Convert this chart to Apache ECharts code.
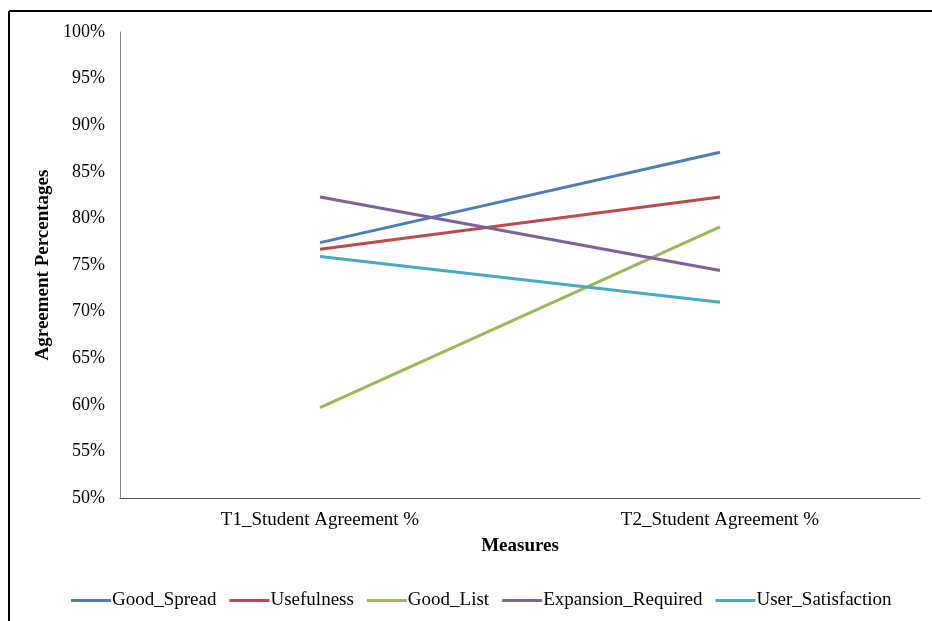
<!DOCTYPE html>
<html><head><meta charset="utf-8">
<script src="https://cdn.jsdelivr.net/npm/echarts@6/dist/echarts.min.js"></script>
<style>html,body{margin:0;padding:0;background:#fff}#c{width:932px;height:621px}</style>
</head><body><div id="c"></div>
<script>
const categories = ['T1_Student Agreement %', 'T2_Student Agreement %'];
const seriesNames = ['Good_Spread', 'Usefulness', 'Good_List', 'Expansion_Required', 'User_Satisfaction'];
const goodSpread = [77.4, 87.1];
const usefulness = [76.7, 82.3];
const goodList = [59.7, 79.1];
const expansionRequired = [82.3, 74.4];
const userSatisfaction = [75.9, 71.0];
const colors = ['#4A7EBB', '#BE4B48', '#98B954', '#7D60A0', '#46AAC5'];
const values = [goodSpread, usefulness, goodList, expansionRequired, userSatisfaction];
const font = 'Liberation Serif';

const chart = echarts.init(document.getElementById('c'), null, {renderer: 'canvas'});
chart.setOption({
  animation: false,
  backgroundColor: '#fff',
  textStyle: {fontFamily: font},
  graphic: [
    {type: 'line', shape: {x1: 9, y1: 11, x2: 940, y2: 11}, style: {stroke: '#000', lineWidth: 2}},
    {type: 'line', shape: {x1: 9, y1: 11, x2: 9, y2: 640}, style: {stroke: '#000', lineWidth: 2}}
  ],
  grid: {left: 120, right: 12, top: 32, bottom: 123, containLabel: false},
  legend: {
    bottom: 6, left: 66, itemWidth: 40, itemHeight: 3, itemGap: 13,
    icon: 'rect',
    textStyle: {fontFamily: font, fontSize: 19, color: '#000', padding: [0, 0, 0, -4]},
    data: seriesNames
  },
  xAxis: {
    type: 'category', data: categories, boundaryGap: true,
    name: 'Measures', nameLocation: 'middle', nameGap: 39,
    nameTextStyle: {fontFamily: font, fontSize: 19, fontWeight: 'bold', color: '#000'},
    axisLine: {lineStyle: {color: '#555', width: 1}},
    axisTick: {show: false},
    axisLabel: {fontFamily: font, fontSize: 19, color: '#000', margin: 13}
  },
  yAxis: {
    type: 'value', min: 50, max: 100, interval: 5,
    name: 'Agreement Percentages', nameLocation: 'middle', nameGap: 66, nameRotate: 90,
    nameTextStyle: {fontFamily: font, fontSize: 19, fontWeight: 'bold', color: '#000'},
    axisLine: {show: true, lineStyle: {color: '#888', width: 1}},
    axisTick: {show: false},
    splitLine: {show: false},
    axisLabel: {fontFamily: font, fontSize: 18, color: '#000', margin: 15, formatter: v => v + '%'}
  },
  series: seriesNames.map((n, i) => ({
    name: n, type: 'line', data: values[i], symbol: 'none',
    lineStyle: {width: 3, color: colors[i]}, itemStyle: {color: colors[i]}
  }))
});
</script></body></html>
